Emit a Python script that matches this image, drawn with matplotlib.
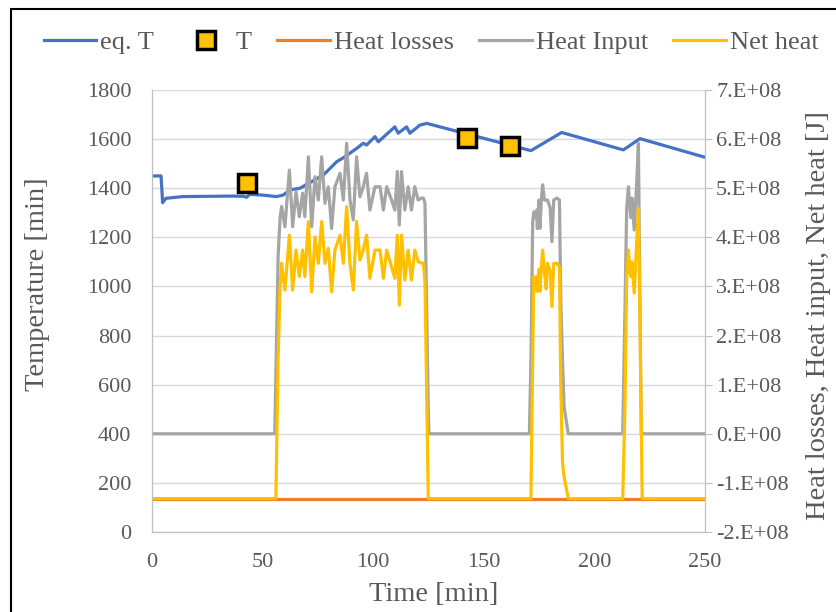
import matplotlib
matplotlib.use('Agg')
import matplotlib.pyplot as plt
from matplotlib.patches import Rectangle
from matplotlib.ticker import FuncFormatter

# eq. T (левая ось)
time_eq = [0, 4.1, 4.8, 6.3, 14.1, 36.7, 41.5, 42.7, 44.2, 50, 56.3, 59.3, 62.3,
           66.9, 77.5, 83.5, 87.2, 92.5, 95.5, 97.0, 100.8, 102.3, 109.8, 111.3,
           115.1, 116.6, 121.1, 124.2, 171.3, 185.2, 213.1, 220.6, 250]
eq_T = [1450, 1450, 1341, 1359, 1366, 1368, 1367, 1363, 1375, 1372, 1366, 1372, 1393,
        1400, 1454, 1508, 1528, 1562, 1583, 1576, 1610, 1589, 1650, 1624,
        1650, 1624, 1657, 1664, 1553, 1627, 1556, 1602, 1526]

# измеренная T
time_T = [42.8, 142.6, 161.8]
meas_T = [1420, 1603, 1572]

# тепловые потоки, в 1e8 J (правая ось)
time_heat = [0, 55.5, 56.0, 57.0, 57.9, 58.6, 60.1, 62.1, 63.6, 65.1, 66.6, 68.1, 69.1,
             70.7, 72.2, 73.7, 75.2, 76.7, 78.2, 79.7, 81.2, 82.7, 85.0, 86.5, 88.0,
             89.5, 91.0, 92.5, 94.0, 95.5, 97.0, 98.5, 100.8, 103.1, 104.6, 106.1,
             108.3, 109.8, 110.9, 111.8, 112.8, 114.3, 115.8, 117.3, 118.8, 120.3,
             121.8, 122.7, 123.4, 124.9, 125.2,
             170.6, 171.3, 172.1, 172.6, 173.2, 173.9, 174.2, 174.9, 175.4, 176.0,
             176.6, 177.4, 178.2, 178.8, 180.0, 180.8, 181.6, 183.0, 184.2, 184.8,
             185.6, 186.3, 188.2,
             212.8, 213.8, 214.6, 215.4, 216.0, 216.5, 217.0, 218.0, 219.0, 219.9,
             220.3, 221.2, 221.6, 250]
heat_input = [0, 0, 1.2, 3.6, 4.4, 4.63, 4.215, 5.37, 4.215, 4.93, 4.42, 4.9, 4.42,
              5.64, 4.215, 5.235, 4.76, 5.64, 4.69, 5.03, 4.18, 5.03, 5.305, 4.76, 5.915,
              4.76, 4.355, 5.64, 4.825, 5.03, 5.305, 4.555, 5.03, 5.03, 4.555, 5.03,
              4.76, 4.555, 5.34, 4.25, 5.34, 4.555, 5.03, 4.555, 5.03, 4.76,
              4.8, 4.8, 4.7, 0.5, 0,
              0, 1.5, 4.3, 4.52, 4.4, 4.555, 4.18, 4.76, 4.18, 4.76,
              5.07, 4.76, 4.76, 4.76, 4.6, 3.91, 4.76, 4.8, 4.76, 2.72,
              1.5, 0.55, 0,
              0, 2.5, 4.6, 5.03, 4.63, 4.4, 4.8, 4.15, 5.0, 5.91,
              4.0, 0, 0, 0]
net_heat = [-1.32, -1.32, -1.32, 1.5, 3.0, 3.47, 2.925, 4.045, 2.925, 3.74, 3.2, 3.74, 3.2,
            4.32, 2.89, 4.01, 3.47, 4.32, 3.47, 3.775, 2.89, 3.74, 4.045, 3.47, 4.625,
            3.47, 2.925, 4.32, 3.54, 3.74, 4.045, 3.165, 3.74, 3.74, 3.165, 3.74,
            3.4, 3.165, 4.045, 2.62, 4.045, 3.13, 3.74, 3.13, 3.74, 3.505,
            3.475, 3.475, 3.1, -1.32, -1.32,
            -1.32, -1.32, 1.5, 3.2, 2.95, 3.2, 2.9, 3.35, 2.9, 3.4,
            3.74, 3.3, 2.95, 3.47, 3.3, 2.59, 3.47, 3.47, 3.4, 1.0,
            -0.6, -0.875, -1.32,
            -1.32, 0.5, 3.2, 3.74, 3.3, 3.2, 3.5, 2.87, 3.8, 4.59,
            3.3, 0.2, -1.32, -1.32]
time_loss = [0, 250]
heat_loss = [-1.32, -1.32]

txt = '#595959'
plt.rcParams['font.family'] = ['Liberation Serif', 'DejaVu Serif']

fig = plt.figure(figsize=(8.37, 6.12), dpi=100)
ax = fig.add_axes([152 / 837, 80 / 612, 553 / 837, 442 / 612])
ax2 = ax.twinx()

l1, = ax.plot(time_eq, eq_T, color='#4472C4', lw=2.3, label='eq. T')
l2, = ax.plot(time_T, meas_T, ls='none', marker='s', ms=13, mfc='#FFC000',
              mec='black', mew=2.5, label='T', zorder=5)

sc = 1e8
l3, = ax2.plot(time_loss, [v * sc for v in heat_loss], color='#ED7D31', lw=2.3, label='Heat losses')
l4, = ax2.plot(time_heat, [v * sc for v in heat_input], color='#A5A5A5', lw=2.3, label='Heat Input')
l5, = ax2.plot(time_heat, [v * sc for v in net_heat], color='#FFC000', lw=2.3, label='Net heat')

ax.set_xlim(0, 250)
ax.set_ylim(0, 1800)
ax.set_xticks(range(0, 251, 50))
ax.set_yticks(range(0, 1801, 200))
ax2.set_ylim(-2e8, 7e8)
ax2.set_yticks([i * 1e8 for i in range(-2, 8)])


def excel_fmt(v, pos):
    m = int(round(v / 1e8))
    if m == 0:
        return '0.E+00'
    return f'{m}.E+08'


ax2.yaxis.set_major_formatter(FuncFormatter(excel_fmt))

ax.grid(axis='y', color='#d9d9d9', lw=1)
ax.set_axisbelow(True)
for a in (ax, ax2):
    a.spines['top'].set_visible(False)
    for s in ('left', 'right', 'bottom'):
        a.spines[s].set_color('#bfbfbf')
ax.tick_params(axis='both', length=0, labelsize=16, colors=txt)
ax.tick_params(axis='x', pad=15)
ax.tick_params(axis='y', pad=15)
ax2.tick_params(axis='y', length=5, color='#bfbfbf', labelsize=16, labelcolor=txt, pad=3)

ax.set_xlabel('Time [min]', fontsize=20.5, color=txt)
ax.xaxis.set_label_coords(0.51, -0.112)
ax.set_ylabel('Temperature [min]', fontsize=20.5, color=txt)
ax.yaxis.set_label_coords(-0.184, 0.56)
ax2.set_ylabel('Heat losses, Heat input, Net heat [J]', fontsize=20.5, color=txt)
ax2.yaxis.set_label_coords(1.183, 0.49)

fig.legend(handles=[l1, l2, l3, l4, l5], loc='center', bbox_to_anchor=(0.515, 0.931),
           ncol=5, frameon=False, fontsize=19, handlelength=2.0, handletextpad=0.15,
           columnspacing=0.95, labelcolor=txt)

fig.patches.append(Rectangle((11 / 837, -0.1), 1.2, 1.1 - 9 / 612, transform=fig.transFigure,
                             fill=False, edgecolor='black', lw=1.5))

fig.savefig('out.png', dpi=100)
